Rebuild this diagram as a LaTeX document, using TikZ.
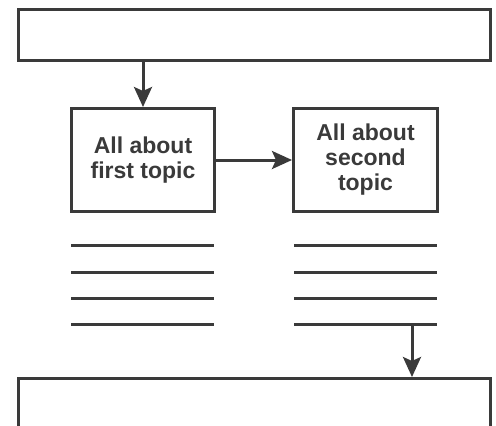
\documentclass[tikz,border=0pt]{standalone}
\usepackage{fontspec}
\setmainfont{Liberation Sans}
\usetikzlibrary{arrows.meta}
\definecolor{ink}{HTML}{3A3A3A}
\tikzset{
  frame/.style={draw=ink, line width=3pt},
  topicbox/.style={draw=ink, line width=3pt, minimum width=143pt, minimum height=103pt,
    inner sep=0pt, align=center, text=ink,
    font=\fontsize{23pt}{25pt}\selectfont\bfseries},
  textline/.style={draw=ink, line width=3pt},
  link/.style={draw=ink, line width=3pt,
    -{Stealth[length=20pt, width=18pt, inset=4pt]}},
}
\begin{document}
\begin{tikzpicture}[x=1pt, y=-1pt]
  \useasboundingbox (0,0) rectangle (496,426);
  \clip (0,0) rectangle (496,426);
  \fill[white] (0,0) rectangle (496,426);

  % header and footer panels
  \node[frame, minimum width=472pt, minimum height=51pt, inner sep=0pt] (top) at (254.5,35) {};
  \node[frame, minimum width=472pt, minimum height=100pt, inner sep=0pt, anchor=north] (bottom) at (254.5,377) {};

  % the two topic boxes
  \node[topicbox] (first) at (143,160) {All about\\first topic};
  \node[topicbox, minimum width=144pt] (second) at (365.5,160) {All about\\second\\topic};

  % placeholder text lines under each topic
  \foreach \y in {245,272,298,324} {
    \draw[textline] (71,\y) -- (214,\y);
    \draw[textline] (294,\y) -- (437,\y);
  }
  \coordinate (tail) at (412,324);

  % connectors
  \draw[link] (top.south -| first) -- (first.north);
  \draw[link] (first.east) -- (second.west);
  \draw[link] (tail) -- (tail |- bottom.north);
\end{tikzpicture}
\end{document}
